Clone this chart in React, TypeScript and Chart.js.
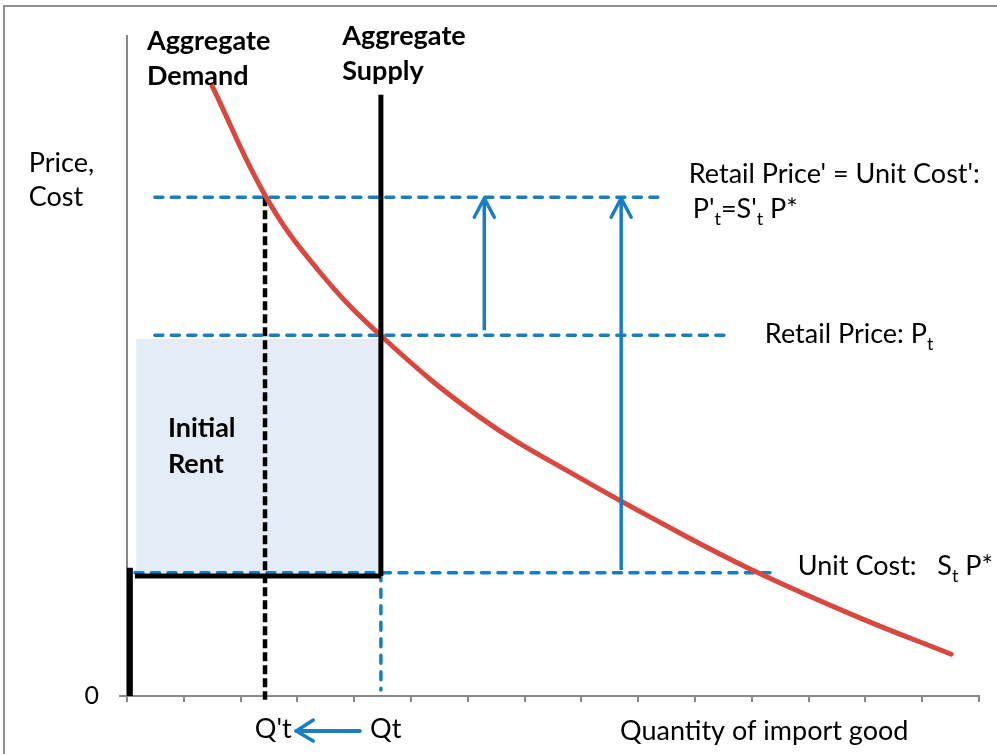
import React, { useEffect, useRef } from 'react';
import { Chart, registerables } from 'chart.js';

Chart.register(...registerables);

const FONT = 'Lato, "Open Sans", sans-serif';

// Axis ranges and ticks
const xMin = 0;
const xMax = 15;
const yMin = 0;
const yMax = 12;
const yTickLabels = ['0'];

// Demand curve (quantity, price)
const demandQ = [1.5, 2.45, 3.36, 4.47, 6.21, 7.98, 9.74, 11.11, 12.9, 14.51];
const demandP = [11.09, 9.07, 7.75, 6.55, 5.07, 3.96, 2.96, 2.24, 1.42, 0.76];

// Key levels
const unitCost = 2.24; // S_t P*
const retailPrice = 6.56; // P_t
const newPrice = 9.07; // P'_t
const qInitial = 4.47; // Qt
const qNew = 2.43; // Q't
const supplyTop = 10.93;
const supplyBase = 2.18;
const rentTop = 6.49;

// Line extents
const newPriceLineX = [0.49, 9.42];
const retailLineX = [0.49, 10.53];
const unitCostLineX = [0.14, 11.37];
const floorLineX = [0.14, qInitial];
const stubX = 0.05;
const stubTop = 2.33;
const rentX = [0.16, 4.45];
const arrow1X = 6.29;
const arrow1Y = [6.65, 9.05];
const arrow2X = 8.7;
const arrow2Y = [2.29, 9.05];
const qtDropY = [unitCost, 0.11];
const qNewDropY = [newPrice, -0.07];

// Category labels on x axis
const qLabels = ["Q't", 'Qt'];
const qLabelX = [2.25, 4.28];
const qArrowX = [4.1, 2.98];

const RED = '#D9483F';
const BLUE = '#177DC5';
const BLACK = '#000000';
const SHADE = '#E4EDF7';
const AXIS = '#878787';

type Seg = { t: string; sub?: boolean };
type Label = { x: number; y: number; segs: Seg[]; bold?: boolean };

const labels: Label[] = [
  { x: 0.35, y: 11.75, segs: [{ t: 'Aggregate' }], bold: true },
  { x: 0.35, y: 11.11, segs: [{ t: 'Demand' }], bold: true },
  { x: 3.79, y: 11.84, segs: [{ t: 'Aggregate' }], bold: true },
  { x: 3.79, y: 11.2, segs: [{ t: 'Supply' }], bold: true },
  { x: 0.72, y: 4.71, segs: [{ t: 'Initial' }], bold: true },
  { x: 0.72, y: 4.05, segs: [{ t: 'Rent' }], bold: true },
  { x: -1.73, y: 9.53, segs: [{ t: 'Price,' }] },
  { x: -1.73, y: 8.91, segs: [{ t: 'Cost' }] },
  { x: 9.89, y: 9.33, segs: [{ t: "Retail Price' = Unit Cost':" }] },
  {
    x: 9.96,
    y: 8.69,
    segs: [{ t: "P'" }, { t: 't', sub: true }, { t: "=S'" }, { t: 't', sub: true }, { t: ' P*' }],
  },
  { x: 11.23, y: 6.42, segs: [{ t: 'Retail Price: P' }, { t: 't', sub: true }] },
  { x: 11.81, y: 2.2, segs: [{ t: 'Unit Cost:   S' }, { t: 't', sub: true }, { t: ' P*' }] },
  { x: 8.68, y: -0.8, segs: [{ t: 'Quantity of import good' }] },
];

const FS = 27;

function seg(x: number[], y: number[]) {
  return x.map((v, i) => ({ x: v, y: y[i] }));
}

const drawPlugin = {
  id: 'drawExtras',
  beforeDraw(chart: any) {
    const ctx = chart.ctx;
    ctx.save();
    ctx.strokeStyle = '#8f8f8f';
    ctx.lineWidth = 2;
    ctx.strokeRect(4, 6, chart.width + 20, chart.height + 20);
    ctx.restore();
  },
  afterDraw(chart: any) {
    const ctx = chart.ctx;
    const xs = chart.scales.x;
    const ys = chart.scales.y;
    const px = (v: number) => xs.getPixelForValue(v);
    const py = (v: number) => ys.getPixelForValue(v);
    ctx.save();
    // small stub of x axis left of the y axis
    ctx.strokeStyle = AXIS;
    ctx.lineWidth = 2;
    ctx.beginPath();
    ctx.moveTo(px(0) - 8, py(0));
    ctx.lineTo(px(0), py(0));
    ctx.stroke();

    // arrow heads
    const head = (x: number, y: number, dir: 'up' | 'left') => {
      ctx.strokeStyle = BLUE;
      ctx.lineWidth = 3.5;
      ctx.lineCap = 'round';
      ctx.lineJoin = 'round';
      ctx.beginPath();
      if (dir === 'up') {
        ctx.moveTo(x - 10, y + 19);
        ctx.lineTo(x, y);
        ctx.lineTo(x + 10, y + 19);
      } else {
        ctx.moveTo(x + 17, y - 11);
        ctx.lineTo(x, y);
        ctx.lineTo(x + 17, y + 10);
      }
      ctx.stroke();
    };
    head(px(arrow1X), py(arrow1Y[1]), 'up');
    head(px(arrow2X), py(arrow2Y[1]), 'up');

    // Q' <- Q arrow under the axis
    const ay = py(0) + 35;
    ctx.strokeStyle = BLUE;
    ctx.lineWidth = 4;
    ctx.lineCap = 'round';
    ctx.beginPath();
    ctx.moveTo(px(qArrowX[0]), ay);
    ctx.lineTo(px(qArrowX[1]), ay);
    ctx.stroke();
    head(px(qArrowX[1]), ay, 'left');

    // texts
    ctx.fillStyle = '#000';
    ctx.textBaseline = 'alphabetic';
    ctx.textAlign = 'left';
    const drawLabel = (l: Label) => {
      let x = px(l.x);
      const y = py(l.y);
      for (const s of l.segs) {
        ctx.font = `${l.bold ? 'bold ' : ''}${s.sub ? Math.round(FS * 0.68) : FS}px ${FONT}`;
        ctx.fillText(s.t, x, s.sub ? y + 7 : y);
        x += ctx.measureText(s.t).width;
      }
    };
    labels.forEach(drawLabel);
    qLabels.forEach((t, i) => drawLabel({ x: qLabelX[i], y: -0.76, segs: [{ t }] }));
    ctx.restore();
  },
};

export default function App() {
  const ref = useRef<HTMLCanvasElement>(null);
  useEffect(() => {
    if (!ref.current) return;
    const base = { showLine: true, pointRadius: 0, fill: false, tension: 0 };
    const blueDash = { borderColor: BLUE, borderWidth: 3.5, borderDash: [8, 8.5], borderCapStyle: 'round' };
    const chart = new Chart(ref.current, {
      type: 'scatter',
      data: {
        datasets: [
          // arrows (top)
          { ...base, data: seg([arrow1X, arrow1X], arrow1Y), borderColor: BLUE, borderWidth: 3.5 },
          { ...base, data: seg([arrow2X, arrow2X], arrow2Y), borderColor: BLUE, borderWidth: 3.5 },
          // supply
          { ...base, data: seg([qInitial, qInitial], [supplyBase, supplyTop]), borderColor: BLACK, borderWidth: 5 },
          // floor line
          { ...base, data: seg(floorLineX, [supplyBase, supplyBase]), borderColor: BLACK, borderWidth: 5 },
          // left thick stub
          { ...base, data: seg([stubX, stubX], [0, stubTop]), borderColor: BLACK, borderWidth: 6, clip: false },
          // demand
          {
            ...base,
            data: seg(demandQ, demandP),
            borderColor: RED,
            borderWidth: 5,
            tension: 0.4,
            borderCapStyle: 'round',
          },
          // Q't dashed drop
          {
            ...base,
            data: seg([qNew, qNew], qNewDropY),
            borderColor: BLACK,
            borderWidth: 4.5,
            borderDash: [9, 4],
            clip: false,
          },
          // blue dashed levels
          { ...base, data: seg(newPriceLineX, [newPrice, newPrice]), ...blueDash },
          { ...base, data: seg(retailLineX, [retailPrice, retailPrice]), ...blueDash },
          { ...base, data: seg(unitCostLineX, [unitCost, unitCost]), ...blueDash },
          { ...base, data: seg([qInitial, qInitial], qtDropY), ...blueDash },
          // rent shading
          {
            ...base,
            data: seg(rentX, [rentTop, rentTop]),
            borderWidth: 0,
            borderColor: 'rgba(0,0,0,0)',
            backgroundColor: SHADE,
            fill: '+1',
          },
          {
            ...base,
            data: seg(rentX, [unitCost, unitCost]),
            borderWidth: 0,
            borderColor: 'rgba(0,0,0,0)',
          },
        ] as any,
      },
      options: {
        animation: false,
        responsive: false,
        maintainAspectRatio: false,
        layout: { padding: { top: 36, right: 18, left: 0, bottom: 0 } },
        plugins: { legend: { display: false }, tooltip: { enabled: false } },
        scales: {
          x: {
            type: 'linear',
            min: xMin,
            max: xMax,
            afterFit: (s: any) => {
              s.height = 58;
              s.paddingLeft = 0;
              s.paddingRight = 0;
            },
            ticks: { display: false, stepSize: 1 },
            grid: { drawOnChartArea: false, drawTicks: true, tickLength: 6, color: AXIS, lineWidth: 2 },
            border: { color: AXIS, width: 2 },
          },
          y: {
            type: 'linear',
            min: yMin,
            max: yMax,
            afterFit: (s: any) => {
              s.width = 127;
              s.paddingTop = 0;
              s.paddingBottom = 0;
            },
            ticks: {
              stepSize: 1,
              autoSkip: false,
              padding: 28,
              color: '#000',
              font: { family: FONT, size: 25 },
              callback: (v: any) => (v === 0 ? yTickLabels[0] : ''),
            },
            grid: { display: false, drawTicks: false },
            border: { color: AXIS, width: 2 },
          },
        },
      } as any,
      plugins: [drawPlugin],
    });
    return () => chart.destroy();
  }, []);
  return (
    <div style={{ position: 'fixed', left: 0, top: 0, width: 997, height: 754, background: '#fff' }}>
      <canvas ref={ref} width={997} height={754} style={{ width: 997, height: 754 }} />
    </div>
  );
}
